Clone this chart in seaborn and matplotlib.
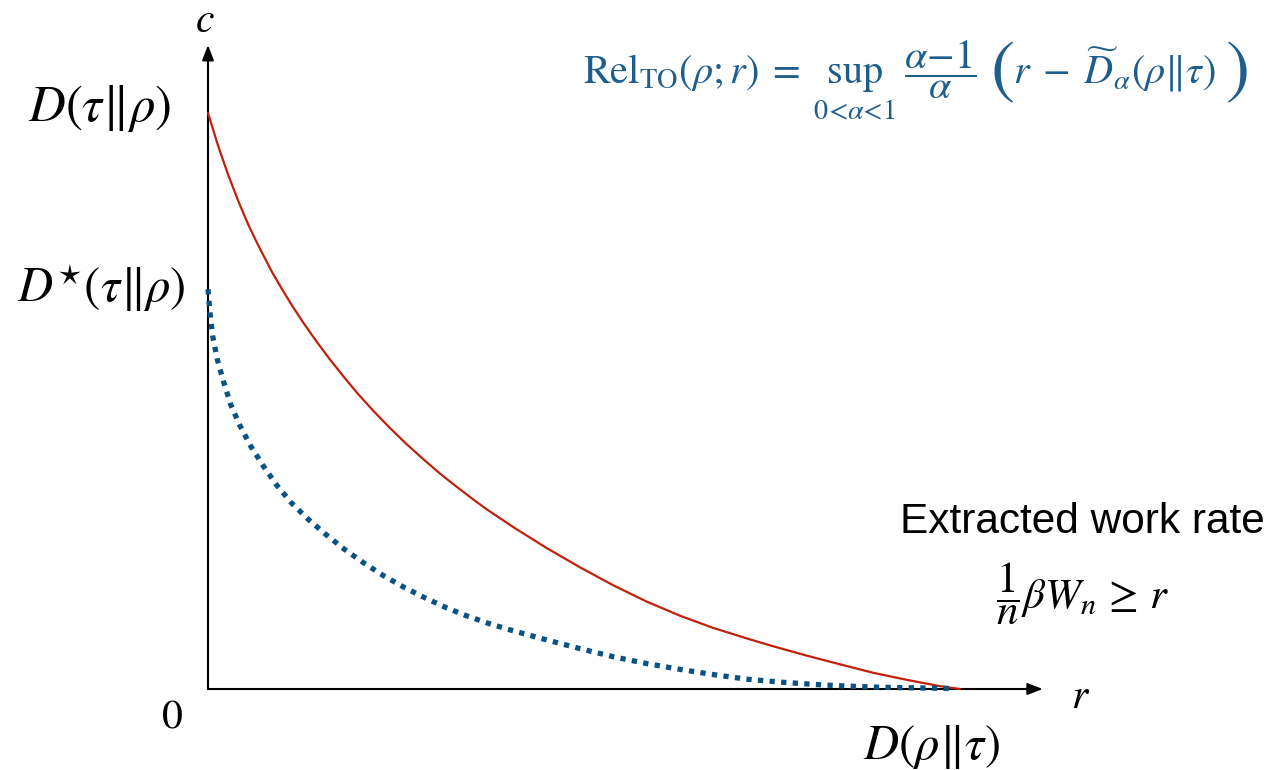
import pandas as pd
import seaborn as sns
import matplotlib.pyplot as plt

# values: r in units of D(rho||tau), c in units of D(tau||rho)
red_r = [0.0, 0.0137, 0.0270, 0.0403, 0.0536, 0.0669, 0.0847, 0.0980, 0.1121, 0.1267,
         0.1445, 0.1622, 0.1799, 0.1977, 0.2198, 0.2420, 0.2642, 0.2863, 0.3085, 0.3307,
         0.3528, 0.3706, 0.406, 0.450, 0.495, 0.539, 0.583, 0.628, 0.672, 0.716, 0.752,
         0.796, 0.840, 0.885, 0.929, 0.973, 1.0]
red_c = [1.0, 0.942, 0.892, 0.847, 0.806, 0.770, 0.725, 0.695, 0.665, 0.636,
         0.603, 0.572, 0.543, 0.515, 0.483, 0.453, 0.425, 0.399, 0.374, 0.351,
         0.329, 0.312, 0.281, 0.245, 0.211, 0.180, 0.152, 0.127, 0.106, 0.088, 0.074,
         0.058, 0.043, 0.028, 0.016, 0.005, 0.0]

blue_r = [0.0, 0.0027, 0.0062, 0.0124, 0.0204, 0.0301, 0.0426, 0.0567, 0.0736, 0.0913,
          0.111, 0.133, 0.157, 0.181, 0.207, 0.233, 0.260, 0.289, 0.317, 0.344, 0.375,
          0.406, 0.451, 0.495, 0.539, 0.584, 0.628, 0.672, 0.717, 0.761, 0.805, 0.850,
          0.894, 0.940, 0.987]
blue_c = [0.694, 0.653, 0.613, 0.572, 0.535, 0.494, 0.457, 0.422, 0.387, 0.354,
          0.323, 0.295, 0.268, 0.243, 0.219, 0.197, 0.177, 0.158, 0.141, 0.127, 0.113,
          0.101, 0.085, 0.070, 0.056, 0.044, 0.034, 0.025, 0.017, 0.012, 0.008, 0.005,
          0.003, 0.002, 0.001]

red_df = pd.DataFrame({"r": red_r, "c": red_c})
blue_df = pd.DataFrame({"r": blue_r, "c": blue_c})

sns.set_style("white")
plt.rcParams["mathtext.fontset"] = "stix"
plt.rcParams["font.family"] = ["Liberation Sans", "DejaVu Sans"]
plt.rcParams["text.color"] = "black"

RED = "#c0210c"
BLUE = "#0a5283"
FORMULA = "#1f5e8c"

W, H = 1272, 770
fig = plt.figure(figsize=(W / 100, H / 100), dpi=100)
ax = fig.add_axes([0, 0, 1, 1])


def at(px, py):
    # pixel position on the canvas -> figure fraction
    return px / W, 1 - py / H


sns.lineplot(data=red_df, x="r", y="c", ax=ax, color=RED, linewidth=1.6,
             estimator=None, sort=False)
sns.lineplot(data=blue_df, x="r", y="c", ax=ax, color=BLUE, linewidth=3.8,
             estimator=None, sort=False, linestyle=(0, (1.0, 1.2)),
             dash_capstyle="butt", zorder=3)

# canvas spans the whole figure; origin of the sketch sits at pixel (208, 689)
ax.set_xlim(-208 / 752, 1064 / 752)
ax.set_ylim(-81 / 576, 689 / 576)
ax.set_axis_off()

# axes with arrow heads
arrow = dict(arrowstyle="-|>,head_length=0.9,head_width=0.35", color="black",
             lw=1.5, shrinkA=0, shrinkB=0)
ax.annotate("", xy=(1.11, 0), xytext=(0, 0), arrowprops=arrow, zorder=1)
ax.annotate("", xy=(0, 1.118), xytext=(0, 0), arrowprops=arrow, zorder=1)

big = 35
ax.annotate(r"$c$", xy=(0, 1.118), xytext=(-3, 24), textcoords="offset pixels",
            ha="center", va="center", fontsize=30)
ax.annotate(r"$r$", xy=(1.11, 0), xytext=(38, -8), textcoords="offset pixels",
            ha="center", va="center", fontsize=30)
ax.annotate(r"$D(\tau\Vert\rho)$", xy=(0, red_c[0]), xytext=(-37, 4),
            textcoords="offset pixels", ha="right", va="center", fontsize=36.5)
ax.annotate(r"$D^{\star}(\tau\Vert\rho)$", xy=(0, blue_c[0]), xytext=(-22, 2),
            textcoords="offset pixels", ha="right", va="center", fontsize=big)
ax.annotate(r"$0$", xy=(0, 0), xytext=(-36, -28), textcoords="offset pixels",
            ha="center", va="center", fontsize=30)
ax.annotate(r"$D(\rho\Vert\tau)$", xy=(1.0, 0), xytext=(-28, -58),
            textcoords="offset pixels", ha="center", va="center", fontsize=big)

fig.text(*at(1265, 522), "Extracted work rate", ha="right", va="center", fontsize=30.5)
fig.text(*at(1083, 594), r"$\dfrac{1}{n}\beta W_n \,\geq\, r$", ha="center",
         va="center", fontsize=31)

# formula, drawn in pieces so the brackets can be tall
fs = 29
fig.text(*at(583, 84),
         r"$\mathrm{Rel}_{\mathrm{TO}}(\rho;r) \;=\; \sup_{0<\alpha<1}\;\dfrac{\alpha-1}{\alpha}$",
         ha="left", va="baseline", fontsize=fs, color=FORMULA)
fig.text(*at(1002, 72), r"$($", ha="center", va="center", fontsize=52, color=FORMULA)
fig.text(*at(1013, 84), r"$r\;-\;\widetilde{D}_{\alpha}(\rho\Vert\tau)$",
         ha="left", va="baseline", fontsize=fs, color=FORMULA)
fig.text(*at(1236, 72), r"$)$", ha="center", va="center", fontsize=52, color=FORMULA)

fig.savefig("out.png", dpi=100, facecolor="white")
